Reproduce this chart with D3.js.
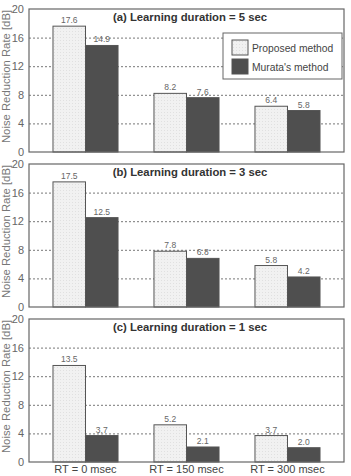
<!DOCTYPE html>
<html>
<head>
<meta charset="utf-8">
<script src="https://cdn.jsdelivr.net/npm/d3@7"></script>
<style>
  body { margin: 0; background: #fff; }
  svg { display: block; font-family: "Liberation Sans", Arial, sans-serif; }
</style>
</head>
<body>
<div id="chart"></div>
<script>
// data
const categories = ["RT = 0 msec", "RT = 150 msec", "RT = 300 msec"];
const methods = ["Proposed method", "Murata's method"];
const panelTitles = ["(a) Learning duration = 5 sec", "(b) Learning duration = 3 sec", "(c) Learning duration = 1 sec"];
const proposedValues = [[17.6, 8.2, 6.4], [17.5, 7.8, 5.8], [13.5, 5.2, 3.7]];
const murataValues = [[14.9, 7.6, 5.8], [12.5, 6.8, 4.2], [3.7, 2.1, 2.0]];
const yTicks = [0, 4, 8, 12, 16, 20];

const width = 351, height = 476;
const left = 29, right = 344;
const panelTops = [9, 164, 319];
const panelH = 143;

const colors = { "Proposed method": "url(#dots)", "Murata's method": "#4f4f4f" };

const svg = d3.select("#chart").append("svg")
    .attr("width", width)
    .attr("height", height);

// light dotted texture for the proposed bars
const pat = svg.append("defs").append("pattern")
    .attr("id", "dots")
    .attr("width", 3).attr("height", 3)
    .attr("patternUnits", "userSpaceOnUse");
pat.append("rect").attr("width", 3).attr("height", 3).attr("fill", "#f1f1f1");
pat.append("rect").attr("x", 1).attr("y", 1).attr("width", 1).attr("height", 1).attr("fill", "#e0e0e0");

const x0 = d3.scaleBand()
    .domain(categories)
    .range([left, right])
    .paddingInner(0.356)
    .paddingOuter(0.2375);

const x1 = d3.scaleBand()
    .domain(methods)
    .range([0, x0.bandwidth()]);

panelTitles.forEach((title, p) => {
    const top = panelTops[p];
    const y = d3.scaleLinear().domain([0, 20]).range([top + panelH, top]);
    const g = svg.append("g");

    // dashed grid lines
    const grid = g.append("g")
        .attr("transform", `translate(${left},0)`)
        .call(d3.axisLeft(y).tickValues([4, 8, 12, 16]).tickSize(-(right - left)).tickFormat(""));
    grid.select(".domain").remove();
    grid.selectAll("line")
        .attr("stroke", "#777")
        .attr("stroke-dasharray", "2,2");

    // tick labels
    const yAxis = g.append("g")
        .attr("transform", `translate(${left},0)`)
        .call(d3.axisLeft(y).tickValues(yTicks).tickSize(0).tickPadding(5));
    yAxis.select(".domain").remove();
    yAxis.selectAll("text")
        .attr("fill", "#666")
        .style("font-size", "11px");

    // bars
    const rows = categories.map((c, i) => ({
        cat: c,
        vals: [
            { m: methods[0], v: proposedValues[p][i] },
            { m: methods[1], v: murataValues[p][i] }
        ]
    }));

    const groups = g.selectAll(".grp")
        .data(rows)
        .enter().append("g")
        .attr("transform", d => `translate(${x0(d.cat)},0)`);

    groups.selectAll("rect")
        .data(d => d.vals)
        .enter().append("rect")
        .attr("x", d => x1(d.m))
        .attr("y", d => y(d.v))
        .attr("width", x1.bandwidth())
        .attr("height", d => y(0) - y(d.v))
        .attr("fill", d => colors[d.m])
        .attr("stroke", "#555")
        .attr("stroke-width", 1);

    groups.selectAll(".val")
        .data(d => d.vals)
        .enter().append("text")
        .attr("x", d => x1(d.m) + x1.bandwidth() / 2)
        .attr("y", d => y(d.v) - 3)
        .attr("text-anchor", "middle")
        .attr("fill", "#666")
        .style("font-size", "8.5px")
        .text(d => d.v.toFixed(1));

    // panel frame
    g.append("rect")
        .attr("x", left)
        .attr("y", top)
        .attr("width", right - left)
        .attr("height", panelH)
        .attr("fill", "none")
        .attr("stroke", "#666")
        .attr("stroke-width", 1.2);

    // title
    g.append("text")
        .attr("x", 190)
        .attr("y", top + 12)
        .attr("text-anchor", "middle")
        .attr("fill", "#333")
        .style("font-size", "11.3px")
        .style("font-weight", "bold")
        .text(title);

    // y label
    g.append("text")
        .attr("transform", `translate(10,${top + panelH / 2 - 4}) rotate(-90)`)
        .attr("text-anchor", "middle")
        .attr("fill", "#777")
        .style("font-size", "11.3px")
        .text("Noise Reduction Rate [dB]");
});

// x labels under the last panel
svg.append("g")
    .selectAll("text")
    .data(categories)
    .enter().append("text")
    .attr("x", d => x0(d) + x0.bandwidth() / 2)
    .attr("y", 473)
    .attr("text-anchor", "middle")
    .attr("fill", "#444")
    .style("font-size", "11px")
    .text(d => d);

// legend in panel (a)
const legend = svg.append("g").attr("transform", "translate(223,33)");
legend.append("rect")
    .attr("width", 119)
    .attr("height", 46)
    .attr("fill", "#fff")
    .attr("stroke", "#666");

const items = legend.selectAll(".item")
    .data(methods)
    .enter().append("g")
    .attr("transform", (d, i) => `translate(9,${7 + i * 19})`);

items.append("rect")
    .attr("width", 16)
    .attr("height", 15)
    .attr("fill", d => colors[d])
    .attr("stroke", "#555");

items.append("text")
    .attr("x", 20)
    .attr("y", 11.5)
    .attr("fill", "#444")
    .style("font-size", "10.3px")
    .text(d => d);
</script>
</body>
</html>
